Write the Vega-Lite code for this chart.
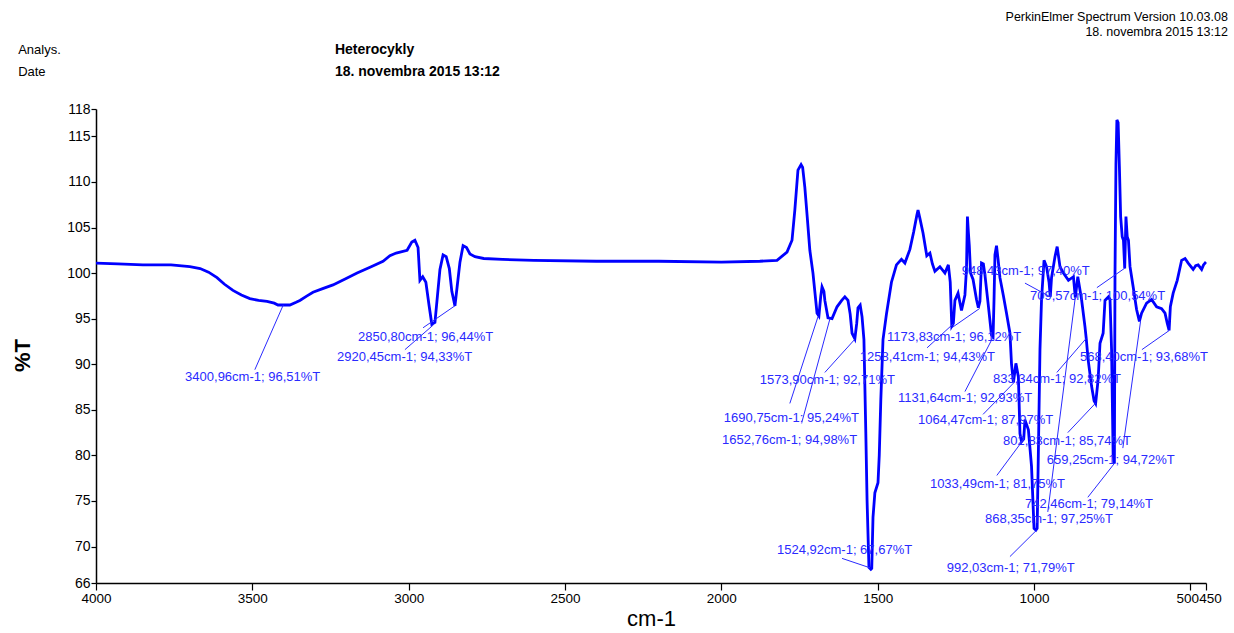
{
  "$schema": "https://vega.github.io/schema/vega-lite/v6.json",
  "autosize": {"type": "none"},
  "padding": {"left": 96, "top": 109, "right": 28, "bottom": 50},
  "width": 1110,
  "height": 474,
  "background": "white",
  "config": {
    "view": {"stroke": null},
    "axis": {"grid": false, "domainColor": "black", "tickColor": "black", "labelColor": "black", "labelFont": "Liberation Sans", "labelFontSize": 14, "titleFont": "Liberation Sans", "titleColor": "black", "domainWidth": 1.5, "tickWidth": 1.2, "labelOverlap": false, "labelFlush": false, "labelPadding": 1, "titleFontSize": 22},
    "axisX": {"titleFontWeight": "normal", "titlePadding": 4, "tickSize": 7},
    "axisY": {"titleFontWeight": "bold", "titleX": -62, "titleY": 246, "tickSize": 5}
  },
  "datasets": {
    "spectrum": [
      {"w": 4000, "t": 101.1}, {"w": 3930, "t": 101.0}, {"w": 3850, "t": 100.9}, {"w": 3760, "t": 100.9}, {"w": 3700, "t": 100.7},
      {"w": 3667, "t": 100.5}, {"w": 3640, "t": 100.1}, {"w": 3613, "t": 99.5}, {"w": 3590, "t": 98.8}, {"w": 3562, "t": 98.1},
      {"w": 3535, "t": 97.6}, {"w": 3508, "t": 97.2}, {"w": 3480, "t": 97.0}, {"w": 3453, "t": 96.9}, {"w": 3430, "t": 96.7},
      {"w": 3418, "t": 96.5}, {"w": 3400, "t": 96.5}, {"w": 3380, "t": 96.5}, {"w": 3360, "t": 96.8}, {"w": 3348, "t": 97.0},
      {"w": 3325, "t": 97.5}, {"w": 3306, "t": 97.9}, {"w": 3275, "t": 98.3}, {"w": 3242, "t": 98.7}, {"w": 3200, "t": 99.4},
      {"w": 3165, "t": 100.0}, {"w": 3120, "t": 100.7}, {"w": 3082, "t": 101.3}, {"w": 3060, "t": 101.9}, {"w": 3040, "t": 102.2},
      {"w": 3005, "t": 102.5}, {"w": 2990, "t": 103.4}, {"w": 2980, "t": 103.6}, {"w": 2970, "t": 102.8}, {"w": 2964, "t": 99.2},
      {"w": 2955, "t": 99.6}, {"w": 2945, "t": 99.0}, {"w": 2935, "t": 96.5}, {"w": 2926, "t": 94.4}, {"w": 2916, "t": 94.6},
      {"w": 2908, "t": 97.5}, {"w": 2900, "t": 100.4}, {"w": 2890, "t": 102.0}, {"w": 2880, "t": 101.8}, {"w": 2870, "t": 100.5},
      {"w": 2862, "t": 98.0}, {"w": 2852, "t": 96.4}, {"w": 2845, "t": 98.5}, {"w": 2836, "t": 101.2}, {"w": 2826, "t": 103.0},
      {"w": 2815, "t": 102.8}, {"w": 2804, "t": 102.1}, {"w": 2788, "t": 101.8}, {"w": 2760, "t": 101.6}, {"w": 2700, "t": 101.5},
      {"w": 2600, "t": 101.4}, {"w": 2400, "t": 101.3}, {"w": 2200, "t": 101.3}, {"w": 2000, "t": 101.2}, {"w": 1877, "t": 101.3},
      {"w": 1822, "t": 101.4}, {"w": 1790, "t": 102.3}, {"w": 1774, "t": 103.6}, {"w": 1765, "t": 106.9}, {"w": 1755, "t": 111.3},
      {"w": 1745, "t": 111.9}, {"w": 1740, "t": 111.6}, {"w": 1733, "t": 109.4}, {"w": 1725, "t": 106.0}, {"w": 1717, "t": 102.5},
      {"w": 1707, "t": 100.0}, {"w": 1694, "t": 95.6}, {"w": 1688, "t": 95.3}, {"w": 1682, "t": 97.5}, {"w": 1678, "t": 98.5},
      {"w": 1672, "t": 98.0}, {"w": 1669, "t": 97.0}, {"w": 1659, "t": 95.1}, {"w": 1646, "t": 95.0}, {"w": 1630, "t": 96.3},
      {"w": 1615, "t": 97.0}, {"w": 1605, "t": 97.4}, {"w": 1595, "t": 97.0}, {"w": 1588, "t": 95.5}, {"w": 1582, "t": 93.4},
      {"w": 1573, "t": 92.8}, {"w": 1567, "t": 94.5}, {"w": 1563, "t": 96.2}, {"w": 1556, "t": 96.5}, {"w": 1550, "t": 95.2},
      {"w": 1544, "t": 92.7}, {"w": 1538, "t": 82.5}, {"w": 1534, "t": 75.1}, {"w": 1528, "t": 67.7}, {"w": 1522, "t": 67.5},
      {"w": 1519, "t": 67.6}, {"w": 1515, "t": 73.2}, {"w": 1509, "t": 75.9}, {"w": 1499, "t": 77.0}, {"w": 1495, "t": 80.0},
      {"w": 1490, "t": 86.1}, {"w": 1483, "t": 92.7}, {"w": 1472, "t": 95.5}, {"w": 1456, "t": 99.0}, {"w": 1440, "t": 100.9},
      {"w": 1424, "t": 101.5}, {"w": 1413, "t": 101.1}, {"w": 1397, "t": 102.6}, {"w": 1385, "t": 104.5}, {"w": 1375, "t": 106.3},
      {"w": 1371, "t": 106.9}, {"w": 1365, "t": 106.0}, {"w": 1355, "t": 104.4}, {"w": 1343, "t": 101.9}, {"w": 1333, "t": 102.2},
      {"w": 1325, "t": 101.0}, {"w": 1317, "t": 100.2}, {"w": 1301, "t": 100.7}, {"w": 1285, "t": 100.0}, {"w": 1274, "t": 100.9},
      {"w": 1268, "t": 99.0}, {"w": 1263, "t": 94.2}, {"w": 1258, "t": 94.5}, {"w": 1253, "t": 97.0}, {"w": 1243, "t": 97.8},
      {"w": 1232, "t": 95.9}, {"w": 1221, "t": 97.6}, {"w": 1216, "t": 100.5}, {"w": 1213, "t": 106.2}, {"w": 1210, "t": 104.5}, {"w": 1207, "t": 103.0},
      {"w": 1203, "t": 100.0}, {"w": 1195, "t": 99.3}, {"w": 1184, "t": 97.1}, {"w": 1178, "t": 96.2}, {"w": 1173, "t": 96.9},
      {"w": 1168, "t": 101.1}, {"w": 1162, "t": 101.0}, {"w": 1157, "t": 99.8}, {"w": 1147, "t": 96.7}, {"w": 1136, "t": 93.2},
      {"w": 1131, "t": 93.0}, {"w": 1128, "t": 97.0}, {"w": 1125, "t": 102.0}, {"w": 1120, "t": 103.0}, {"w": 1115, "t": 101.5},
      {"w": 1109, "t": 99.5}, {"w": 1098, "t": 97.5}, {"w": 1088, "t": 95.6}, {"w": 1077, "t": 93.4}, {"w": 1072, "t": 90.0},
      {"w": 1066, "t": 88.0}, {"w": 1062, "t": 89.0}, {"w": 1058, "t": 90.1}, {"w": 1050, "t": 88.6}, {"w": 1045, "t": 82.4},
      {"w": 1040, "t": 81.5}, {"w": 1033, "t": 81.8}, {"w": 1029, "t": 83.9}, {"w": 1018, "t": 82.8}, {"w": 1008, "t": 78.8},
      {"w": 1000, "t": 72.0}, {"w": 994, "t": 71.8}, {"w": 990, "t": 72.0}, {"w": 986, "t": 80.6}, {"w": 981, "t": 91.6},
      {"w": 976, "t": 97.1}, {"w": 968, "t": 101.4}, {"w": 960, "t": 100.7}, {"w": 952, "t": 99.0}, {"w": 948, "t": 97.4},
      {"w": 944, "t": 99.5}, {"w": 933, "t": 101.8}, {"w": 926, "t": 102.9}, {"w": 917, "t": 100.7}, {"w": 906, "t": 100.0},
      {"w": 890, "t": 99.2}, {"w": 874, "t": 99.6}, {"w": 868, "t": 97.3}, {"w": 860, "t": 99.6}, {"w": 848, "t": 97.1},
      {"w": 837, "t": 94.1}, {"w": 833, "t": 92.8}, {"w": 827, "t": 90.5}, {"w": 816, "t": 87.6}, {"w": 808, "t": 86.0},
      {"w": 803, "t": 85.7}, {"w": 795, "t": 88.3}, {"w": 789, "t": 92.3}, {"w": 779, "t": 93.4}, {"w": 773, "t": 97.0},
      {"w": 762, "t": 97.4}, {"w": 757, "t": 97.1}, {"w": 752, "t": 91.6}, {"w": 747, "t": 80.0}, {"w": 743, "t": 79.1},
      {"w": 741, "t": 100.0}, {"w": 738, "t": 112.0}, {"w": 735, "t": 116.8}, {"w": 731, "t": 116.5}, {"w": 727, "t": 111.7},
      {"w": 723, "t": 106.2}, {"w": 718, "t": 104.0}, {"w": 714, "t": 103.6}, {"w": 710, "t": 100.5}, {"w": 706, "t": 106.2},
      {"w": 702, "t": 104.0}, {"w": 698, "t": 103.6}, {"w": 693, "t": 100.7}, {"w": 683, "t": 98.5}, {"w": 672, "t": 96.0},
      {"w": 663, "t": 94.7}, {"w": 656, "t": 95.6}, {"w": 640, "t": 96.7}, {"w": 624, "t": 97.1}, {"w": 608, "t": 96.3},
      {"w": 592, "t": 96.1}, {"w": 581, "t": 95.6}, {"w": 574, "t": 94.5}, {"w": 568, "t": 93.7}, {"w": 564, "t": 96.3},
      {"w": 555, "t": 97.8}, {"w": 542, "t": 99.2}, {"w": 528, "t": 101.4}, {"w": 517, "t": 101.6}, {"w": 507, "t": 101.1},
      {"w": 491, "t": 100.4}, {"w": 483, "t": 100.8}, {"w": 475, "t": 100.9}, {"w": 464, "t": 100.4}, {"w": 458, "t": 100.9},
      {"w": 453, "t": 101.1}, {"w": 450, "t": 101.0}
    ],
    "peaks": [
      {"label": "3400,96cm-1; 96,51%T", "w": 3400.96, "t": 96.51, "tx": 3715, "ty": 88.6, "lx": 3492, "ly": 89.4},
      {"label": "2850,80cm-1; 96,44%T", "w": 2850.80, "t": 96.44, "tx": 3162, "ty": 93.0, "lx": 2954, "ly": 94.0},
      {"label": "2920,45cm-1; 94,33%T", "w": 2920.45, "t": 94.33, "tx": 3229, "ty": 90.8, "lx": 3012, "ly": 91.6},
      {"label": "1573,90cm-1; 92,71%T", "w": 1573.90, "t": 92.71, "tx": 1877, "ty": 88.3, "lx": 1669, "ly": 89.1},
      {"label": "1690,75cm-1; 95,24%T", "w": 1690.75, "t": 95.24, "tx": 1992, "ty": 84.1, "lx": 1781, "ly": 85.7},
      {"label": "1652,76cm-1; 94,98%T", "w": 1652.76, "t": 94.98, "tx": 1998, "ty": 81.7, "lx": 1742, "ly": 83.7},
      {"label": "1524,92cm-1; 67,67%T", "w": 1524.92, "t": 67.67, "tx": 1822, "ty": 69.6, "lx": 1614, "ly": 68.7},
      {"label": "1173,83cm-1; 96,12%T", "w": 1173.83, "t": 96.12, "tx": 1470, "ty": 93.0, "lx": 1263, "ly": 94.0},
      {"label": "1258,41cm-1; 94,43%T", "w": 1258.41, "t": 94.43, "tx": 1557, "ty": 90.8, "lx": 1342, "ly": 91.8},
      {"label": "948,43cm-1; 97,40%T", "w": 948.43, "t": 97.40, "tx": 1231, "ty": 100.2, "lx": 1029, "ly": 98.9},
      {"label": "709,57cm-1; 100,54%T", "w": 709.57, "t": 100.54, "tx": 1013, "ty": 97.5, "lx": 799, "ly": 98.4},
      {"label": "568,40cm-1; 93,68%T", "w": 568.40, "t": 93.68, "tx": 853, "ty": 90.8, "lx": 655, "ly": 91.6},
      {"label": "833,34cm-1; 92,82%T", "w": 833.34, "t": 92.82, "tx": 1131, "ty": 88.4, "lx": 927, "ly": 89.1},
      {"label": "1131,64cm-1; 92,93%T", "w": 1131.64, "t": 92.93, "tx": 1435, "ty": 86.3, "lx": 1221, "ly": 87.0},
      {"label": "1064,47cm-1; 87,97%T", "w": 1064.47, "t": 87.97, "tx": 1371, "ty": 83.9, "lx": 1163, "ly": 84.5},
      {"label": "802,83cm-1; 85,74%T", "w": 802.83, "t": 85.74, "tx": 1099, "ty": 81.6, "lx": 892, "ly": 82.5},
      {"label": "659,25cm-1; 94,72%T", "w": 659.25, "t": 94.72, "tx": 959, "ty": 79.5, "lx": 716, "ly": 80.8},
      {"label": "1033,49cm-1; 81,75%T", "w": 1033.49, "t": 81.75, "tx": 1333, "ty": 76.9, "lx": 1119, "ly": 77.8},
      {"label": "742,46cm-1; 79,14%T", "w": 742.46, "t": 79.14, "tx": 1029, "ty": 74.7, "lx": 828, "ly": 75.4},
      {"label": "868,35cm-1; 97,25%T", "w": 868.35, "t": 97.25, "tx": 1157, "ty": 73.0, "lx": 956, "ly": 73.8},
      {"label": "992,03cm-1; 71,79%T", "w": 992.03, "t": 71.79, "tx": 1279, "ty": 67.6, "lx": 1077, "ly": 68.9}
    ],
    "headerLeft": [
      {"text": "Analys.", "x": 4249, "y": 124.5},
      {"text": "Date", "x": 4249, "y": 122.1}
    ],
    "headerMid": [
      {"text": "Heterocykly", "x": 3236, "y": 124.5},
      {"text": "18. novembra 2015 13:12", "x": 3236, "y": 122.1}
    ],
    "headerRight": [
      {"text": "PerkinElmer Spectrum Version 10.03.08", "x": 380, "y": 128.1},
      {"text": "18. novembra 2015 13:12", "x": 380, "y": 126.4}
    ]
  },
  "layer": [
    {
      "data": {"name": "spectrum"},
      "mark": {"type": "line", "color": "#0000ff", "strokeWidth": 2.8, "interpolate": "linear"},
      "encoding": {
        "x": {"field": "w", "type": "quantitative", "title": "cm-1", "scale": {"domain": [4000, 450], "nice": false, "zero": false},
              "axis": {"values": [4000, 3500, 3000, 2500, 2000, 1500, 1000, 500, 450], "format": "d", "labelFontSize": 13.5,
                       "labelOffset": {"condition": [{"test": "datum.value == 500", "value": -3}, {"test": "datum.value == 450", "value": 4}], "value": 0}}},
        "y": {"field": "t", "type": "quantitative", "title": "%T", "scale": {"domain": [66, 118], "nice": false, "zero": false},
              "axis": {"values": [66, 70, 75, 80, 85, 90, 95, 100, 105, 110, 115, 118], "format": "d"}},
        "order": {"field": "w", "sort": "descending"}
      }
    },
    {
      "data": {"name": "peaks"},
      "mark": {"type": "rule", "color": "#2a2aff", "strokeWidth": 1},
      "encoding": {
        "x": {"field": "lx", "type": "quantitative", "title": "cm-1"},
        "y": {"field": "ly", "type": "quantitative", "title": "%T"},
        "x2": {"field": "w"},
        "y2": {"field": "t"}
      }
    },
    {
      "data": {"name": "peaks"},
      "mark": {"type": "text", "color": "#2a2aff", "font": "Liberation Sans", "fontSize": 13, "align": "left", "baseline": "middle"},
      "encoding": {
        "x": {"field": "tx", "type": "quantitative", "title": "cm-1"},
        "y": {"field": "ty", "type": "quantitative", "title": "%T"},
        "text": {"field": "label"}
      }
    },
    {
      "data": {"name": "headerLeft"},
      "mark": {"type": "text", "color": "black", "font": "Liberation Sans", "fontSize": 13, "align": "left", "baseline": "middle"},
      "encoding": {
        "x": {"field": "x", "type": "quantitative", "title": "cm-1"},
        "y": {"field": "y", "type": "quantitative", "title": "%T"},
        "text": {"field": "text"}
      }
    },
    {
      "data": {"name": "headerMid"},
      "mark": {"type": "text", "color": "black", "font": "Liberation Sans", "fontSize": 14, "fontWeight": "bold", "align": "left", "baseline": "middle"},
      "encoding": {
        "x": {"field": "x", "type": "quantitative", "title": "cm-1"},
        "y": {"field": "y", "type": "quantitative", "title": "%T"},
        "text": {"field": "text"}
      }
    },
    {
      "data": {"name": "headerRight"},
      "mark": {"type": "text", "color": "black", "font": "Liberation Sans", "fontSize": 12.5, "align": "right", "baseline": "middle"},
      "encoding": {
        "x": {"field": "x", "type": "quantitative", "title": "cm-1"},
        "y": {"field": "y", "type": "quantitative", "title": "%T"},
        "text": {"field": "text"}
      }
    }
  ]
}
